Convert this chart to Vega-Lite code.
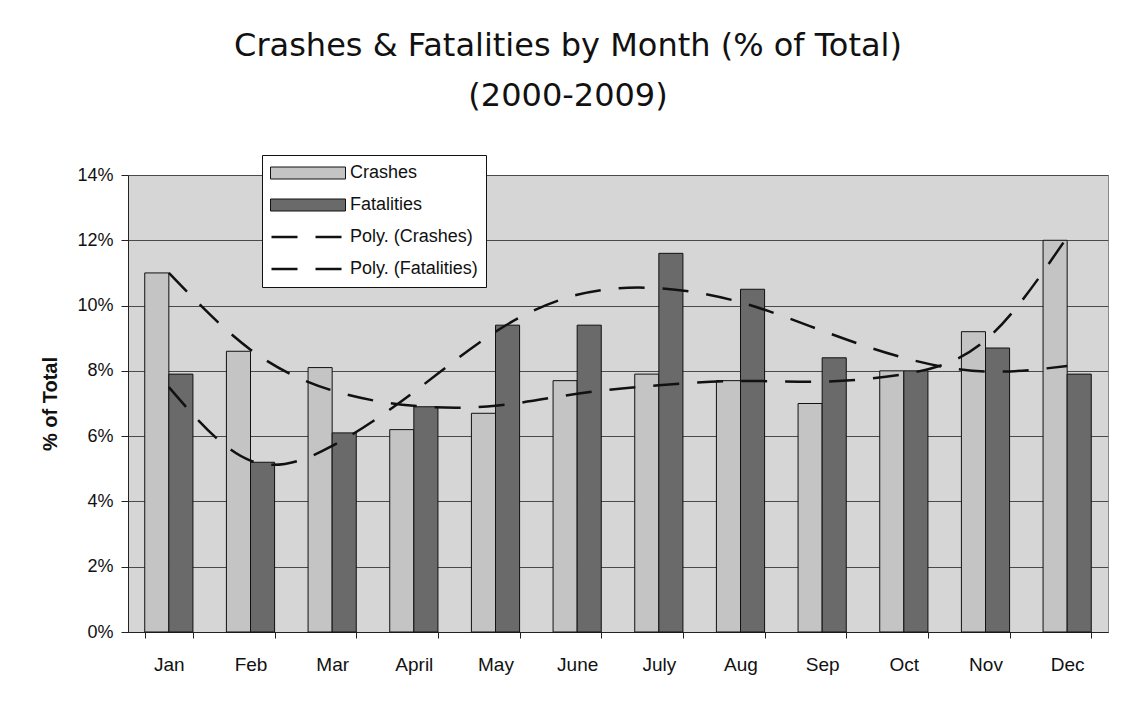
{
  "$schema": "https://vega.github.io/schema/vega-lite/v6.json",
  "width": 980,
  "height": 457,
  "autosize": {"type": "none"},
  "padding": {"left": 128, "top": 175, "right": 17, "bottom": 74},
  "background": "white",
  "config": {
    "font": "Liberation Sans",
    "view": {"fill": "#d6d6d6", "stroke": "#8a8a8a", "strokeWidth": 1}
  },
  "title": {
    "text": ["Crashes & Fatalities by Month (% of Total)", "(2000-2009)"],
    "font": "DejaVu Sans",
    "fontSize": 32,
    "fontWeight": "normal",
    "color": "#111111",
    "lineHeight": 50,
    "anchor": "middle",
    "dx": -50,
    "offset": 42
  },
  "datasets": {
    "bars": [
      {"month": "Jan", "series": "Crashes", "value": 11.0},
      {"month": "Jan", "series": "Fatalities", "value": 7.9},
      {"month": "Feb", "series": "Crashes", "value": 8.6},
      {"month": "Feb", "series": "Fatalities", "value": 5.2},
      {"month": "Mar", "series": "Crashes", "value": 8.1},
      {"month": "Mar", "series": "Fatalities", "value": 6.1},
      {"month": "April", "series": "Crashes", "value": 6.2},
      {"month": "April", "series": "Fatalities", "value": 6.9},
      {"month": "May", "series": "Crashes", "value": 6.7},
      {"month": "May", "series": "Fatalities", "value": 9.4},
      {"month": "June", "series": "Crashes", "value": 7.7},
      {"month": "June", "series": "Fatalities", "value": 9.4},
      {"month": "July", "series": "Crashes", "value": 7.9},
      {"month": "July", "series": "Fatalities", "value": 11.6},
      {"month": "Aug", "series": "Crashes", "value": 7.7},
      {"month": "Aug", "series": "Fatalities", "value": 10.5},
      {"month": "Sep", "series": "Crashes", "value": 7.0},
      {"month": "Sep", "series": "Fatalities", "value": 8.4},
      {"month": "Oct", "series": "Crashes", "value": 8.0},
      {"month": "Oct", "series": "Fatalities", "value": 8.0},
      {"month": "Nov", "series": "Crashes", "value": 9.2},
      {"month": "Nov", "series": "Fatalities", "value": 8.7},
      {"month": "Dec", "series": "Crashes", "value": 12.0},
      {"month": "Dec", "series": "Fatalities", "value": 7.9}
    ],
    "trends": [
      {"month": "Jan", "series": "Poly. (Crashes)", "value": 11.0},
      {"month": "Feb", "series": "Poly. (Crashes)", "value": 8.65},
      {"month": "Mar", "series": "Poly. (Crashes)", "value": 7.4},
      {"month": "April", "series": "Poly. (Crashes)", "value": 6.93},
      {"month": "May", "series": "Poly. (Crashes)", "value": 6.93},
      {"month": "June", "series": "Poly. (Crashes)", "value": 7.3},
      {"month": "July", "series": "Poly. (Crashes)", "value": 7.56},
      {"month": "Aug", "series": "Poly. (Crashes)", "value": 7.69},
      {"month": "Sep", "series": "Poly. (Crashes)", "value": 7.67},
      {"month": "Oct", "series": "Poly. (Crashes)", "value": 7.9},
      {"month": "Nov", "series": "Poly. (Crashes)", "value": 8.94},
      {"month": "Dec", "series": "Poly. (Crashes)", "value": 12.1},
      {"month": "Jan", "series": "Poly. (Fatalities)", "value": 7.5},
      {"month": "Feb", "series": "Poly. (Fatalities)", "value": 5.25},
      {"month": "Mar", "series": "Poly. (Fatalities)", "value": 5.7},
      {"month": "April", "series": "Poly. (Fatalities)", "value": 7.35},
      {"month": "May", "series": "Poly. (Fatalities)", "value": 9.2},
      {"month": "June", "series": "Poly. (Fatalities)", "value": 10.33},
      {"month": "July", "series": "Poly. (Fatalities)", "value": 10.53},
      {"month": "Aug", "series": "Poly. (Fatalities)", "value": 10.1},
      {"month": "Sep", "series": "Poly. (Fatalities)", "value": 9.23},
      {"month": "Oct", "series": "Poly. (Fatalities)", "value": 8.4},
      {"month": "Nov", "series": "Poly. (Fatalities)", "value": 7.98},
      {"month": "Dec", "series": "Poly. (Fatalities)", "value": 8.15}
    ]
  },
  "encoding": {
    "x": {
      "field": "month",
      "type": "nominal",
      "sort": ["Jan", "Feb", "Mar", "April", "May", "June", "July", "Aug", "Sep", "Oct", "Nov", "Dec"],
      "scale": {"paddingInner": 0.41, "paddingOuter": 0.205},
      "axis": {
        "title": null,
        "labelAngle": 0,
        "labelFontSize": 19,
        "labelColor": "#111111",
        "labelPadding": 17,
        "tickBand": "extent",
        "tickSize": 6,
        "tickColor": "#222222",
        "domainColor": "#222222",
        "grid": false
      }
    },
    "y": {
      "field": "value",
      "type": "quantitative",
      "scale": {"domain": [0, 14], "nice": false},
      "axis": {
        "title": "% of Total",
        "titleFontSize": 20,
        "titleFontWeight": "bold",
        "titleColor": "#111111",
        "titlePadding": 16,
        "values": [0, 2, 4, 6, 8, 10, 12, 14],
        "labelExpr": "datum.value + '%'",
        "labelFontSize": 18,
        "labelColor": "#111111",
        "labelPadding": 8,
        "tickSize": 7,
        "tickColor": "#222222",
        "domainColor": "#222222",
        "gridColor": "#4a4a4a",
        "gridWidth": 1
      }
    }
  },
  "layer": [
    {
      "data": {"name": "bars"},
      "mark": {"type": "bar", "strokeWidth": 1},
      "encoding": {
        "xOffset": {"field": "series", "type": "nominal", "scale": {"domain": ["Crashes", "Fatalities"], "paddingInner": 0, "paddingOuter": 0}},
        "fill": {
          "field": "series",
          "type": "nominal",
          "scale": {
            "domain": ["Crashes", "Fatalities", "Poly. (Crashes)", "Poly. (Fatalities)"],
            "range": ["#c4c4c4", "#6a6a6a", "transparent", "transparent"]
          },
          "legend": {
            "title": null,
            "orient": "none",
            "legendX": 134,
            "legendY": -20,
            "fillColor": "white",
            "strokeColor": "#111111",
            "padding": 8,
            "symbolType": "M-1,-0.16H1V0.16H-1Z",
            "symbolSize": 5625,
            "symbolStrokeWidth": 1,
            "clipHeight": 20,
            "rowPadding": 12,
            "labelFontSize": 18,
            "labelColor": "#111111",
            "labelOffset": 4,
            "zindex": 1
          }
        },
        "stroke": {
          "field": "series",
          "type": "nominal",
          "scale": {
            "domain": ["Crashes", "Fatalities", "Poly. (Crashes)", "Poly. (Fatalities)"],
            "range": ["#111111", "#111111", "transparent", "transparent"]
          },
          "legend": {
            "title": null,
            "orient": "none",
            "legendX": 134,
            "legendY": -20,
            "fillColor": "white",
            "strokeColor": "#111111",
            "padding": 8,
            "symbolType": "M-1,-0.16H1V0.16H-1Z",
            "symbolSize": 5625,
            "symbolStrokeWidth": 1,
            "clipHeight": 20,
            "rowPadding": 12,
            "labelFontSize": 18,
            "labelColor": "#111111",
            "labelOffset": 4,
            "zindex": 1
          }
        }
      }
    },
    {
      "data": {"name": "trends"},
      "mark": {"type": "line", "interpolate": "natural", "stroke": "#111111", "strokeWidth": 2.5},
      "encoding": {
        "detail": {"field": "series", "type": "nominal"},
        "strokeDash": {
          "field": "series",
          "type": "nominal",
          "scale": {
            "domain": ["Poly. (Crashes)", "Poly. (Fatalities)"],
            "range": [[26, 18], [26, 18]]
          },
          "legend": {
            "title": null,
            "orient": "none",
            "legendX": 142,
            "legendY": 52,
            "padding": 0,
            "symbolType": "stroke",
            "symbolSize": 5625,
            "symbolStrokeColor": "#111111",
            "symbolStrokeWidth": 2.5,
            "clipHeight": 20,
            "rowPadding": 12,
            "labelExpr": "''",
            "labelFontSize": 16,
            "zindex": 2
          }
        }
      }
    }
  ]
}
